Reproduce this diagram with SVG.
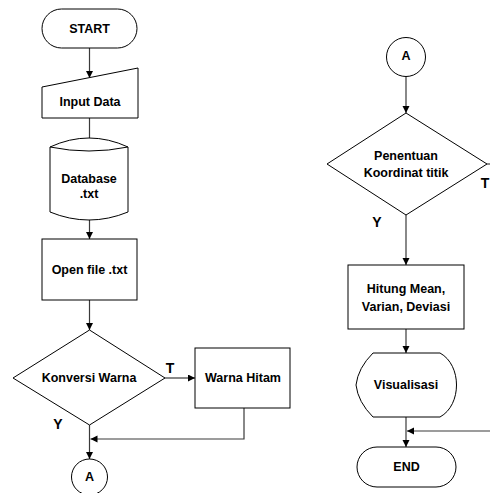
<svg xmlns="http://www.w3.org/2000/svg" width="490" height="493" viewBox="0 0 490 493">
<style>
.s{fill:#fff;stroke:#000;stroke-width:1}
.t{font-family:"Liberation Sans",Arial,sans-serif;font-weight:bold;font-size:12.5px;text-anchor:middle;dominant-baseline:central;fill:#000}
.l{font-family:"Liberation Sans",Arial,sans-serif;font-weight:bold;font-size:14px;text-anchor:middle;dominant-baseline:central;fill:#000}
.c{fill:none;stroke:#3a3a3a;stroke-width:1.2}
.a{marker-end:url(#ah)}
</style>
<defs>
<marker id="ah" markerUnits="userSpaceOnUse" markerWidth="8" markerHeight="8" refX="7" refY="3.5" orient="auto">
<path d="M0,0 L7,3.5 L0,7 z" fill="#000"/>
</marker>
</defs>
<rect width="490" height="493" fill="#fff"/>
<g id="connectors">
<line class="c a" x1="89.5" y1="48" x2="89.5" y2="78"/>
<line class="c a" x1="89.5" y1="118" x2="89.5" y2="149"/>
<line class="c a" x1="89.5" y1="220" x2="89.5" y2="239"/>
<line class="c a" x1="89.5" y1="300" x2="89.5" y2="330"/>
<line class="c a" x1="165" y1="378" x2="195" y2="378"/>
<polyline class="c a" points="244,408 244,439 90.5,439"/>
<line class="c a" x1="89.5" y1="425" x2="89.5" y2="459"/>
<line class="c a" x1="406" y1="76.5" x2="406" y2="113"/>
<line class="c" x1="487" y1="164" x2="490" y2="164"/>
<line class="c a" x1="406" y1="215" x2="406" y2="265"/>
<line class="c a" x1="406" y1="329" x2="406" y2="353"/>
<line class="c a" x1="406" y1="417" x2="406" y2="447"/>
<line class="c a" x1="490" y1="431" x2="407" y2="431"/>
</g>
<g id="start">
<rect class="s" x="42" y="9" width="95" height="39" rx="19.5"/>
<text class="t" x="89.5" y="28.5">START</text>
</g>
<g id="input">
<polygon class="s" points="42,87 138,68 138,118 42,118"/>
<text class="t" x="90" y="102">Input Data</text>
</g>
<g id="database">
<path class="s" d="M50,147 Q89,129 128,147 L128,212 Q89,228 50,212 Z"/>
<path class="s" fill="none" d="M50,147 Q89,155 128,147"/>
<text class="t" x="89" y="179">Database</text>
<text class="t" x="89" y="194">.txt</text>
</g>
<g id="openfile">
<rect class="s" x="42" y="239" width="95" height="61"/>
<text class="t" x="89.5" y="270">Open file .txt</text>
</g>
<g id="konversi">
<polygon class="s" points="89.5,330 165,378 89.5,425 13,378"/>
<text class="t" x="89" y="378">Konversi Warna</text>
<text class="l" x="170" y="368">T</text>
<text class="l" x="58" y="424">Y</text>
</g>
<g id="warnahitam">
<rect class="s" x="195" y="348" width="95" height="60"/>
<text class="t" x="243" y="378">Warna Hitam</text>
</g>
<g id="connectorA1">
<circle class="s" cx="89.5" cy="477" r="18"/>
<text class="t" x="89.5" y="477">A</text>
</g>
<g id="connectorA2">
<circle class="s" cx="406" cy="57" r="19.5"/>
<text class="t" x="406" y="56">A</text>
</g>
<g id="penentuan">
<polygon class="s" points="406,113 487,164 406,215 327,164"/>
<text class="t" x="406" y="156">Penentuan</text>
<text class="t" x="406" y="173">Koordinat titik</text>
<text class="l" x="485" y="183">T</text>
<text class="l" x="377" y="222">Y</text>
</g>
<g id="hitung">
<rect class="s" x="348" y="265" width="116" height="64"/>
<text class="t" x="406" y="288.5">Hitung Mean,</text>
<text class="t" x="406" y="307">Varian, Deviasi</text>
</g>
<g id="visualisasi">
<path class="s" d="M373,353 L440,353 C462,365 462,405 440,417 L373,417 Q358,402 356,385 Q358,368 373,353 Z"/>
<text class="t" x="406" y="385">Visualisasi</text>
</g>
<g id="end">
<rect class="s" x="357" y="447" width="99" height="40" rx="20"/>
<text class="t" x="406.5" y="467">END</text>
</g>
</svg>
